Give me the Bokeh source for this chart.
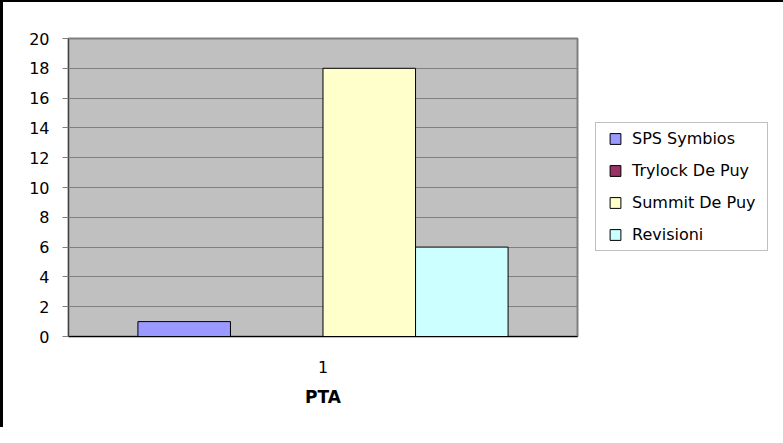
from bokeh.plotting import figure
from bokeh.models import FactorRange, Legend, LegendItem, ColumnDataSource, FixedTicker
from bokeh.transform import dodge
from bokeh.embed import file_html
from bokeh.resources import INLINE

categories = ["1"]
series = ["SPS Symbios", "Trylock De Puy", "Summit De Puy", "Revisioni"]
values = [1, 0, 18, 6]
colors = ["#9999FF", "#993366", "#FFFFCC", "#CCFFFF"]
x_title = "PTA"
y_ticks = [0, 2, 4, 6, 8, 10, 12, 14, 16, 18, 20]

FONT = "DejaVu Sans"

p = figure(frame_width=509, frame_height=298,
           x_range=FactorRange(factors=categories), y_range=(0, 20),
           output_backend="svg", toolbar_location=None,
           min_border_left=68, min_border_right=190, min_border_top=38, min_border_bottom=91,
           styles={"box-shadow": "inset 3px 2px 0 0 #000000"})
p.border_fill_color = None
p.background_fill_color = "#C0C0C0"
p.outline_line_color = "#808080"
p.outline_line_width = 2

n = len(series)
slot = 1.0 / (n + 1.5)
items = []
for i, (name, v, c) in enumerate(zip(series, values, colors)):
    off = (i - (n - 1) / 2) * slot
    src = ColumnDataSource(dict(x=categories, top=[v]))
    p.vbar(x=dodge("x", off, range=p.x_range), top="top", width=slot, source=src,
           fill_color=c, line_color="black", line_width=1)
    r = p.scatter(x=dodge("x", off, range=p.x_range), y="top", source=src, marker="square",
                  fill_color=c, line_color="black", line_width=1, visible=False)
    items.append(LegendItem(label=name, renderers=[r]))

legend = Legend(items=items, location=(18, 85), padding=2, spacing=5, margin=0,
                glyph_width=34, glyph_height=27, label_height=10, label_width=133,
                label_standoff=0, label_text_font=FONT, label_text_font_size="16px",
                label_text_color="black", border_line_color="#808080", border_line_width=1,
                background_fill_color="white", background_fill_alpha=1.0)
p.add_layout(legend, "right")

p.ygrid.grid_line_color = "#808080"
p.ygrid.ticker = FixedTicker(ticks=y_ticks)
p.xgrid.grid_line_color = None

p.yaxis.ticker = FixedTicker(ticks=y_ticks)
p.yaxis.major_tick_out = 6
p.yaxis.major_tick_in = 0
p.yaxis.major_tick_line_color = "#808080"
p.yaxis.minor_tick_line_color = None
p.yaxis.axis_line_color = "#404040"
p.yaxis.major_label_standoff = 13
p.yaxis.major_label_text_font = FONT
p.yaxis.major_label_text_font_size = "16px"
p.yaxis.major_label_text_color = "black"

p.xaxis.axis_line_color = "black"
p.xaxis.major_tick_line_color = None
p.xaxis.major_tick_out = 0
p.xaxis.major_tick_in = 0
p.xaxis.major_label_standoff = 24
p.xaxis.major_label_text_font = FONT
p.xaxis.major_label_text_font_size = "16px"
p.xaxis.major_label_text_color = "black"
p.xaxis.axis_label = x_title
p.xaxis.axis_label_text_font = FONT
p.xaxis.axis_label_text_font_size = "17px"
p.xaxis.axis_label_text_font_style = "bold"
p.xaxis.axis_label_text_color = "black"
p.xaxis.axis_label_standoff = 11

open("out.html", "w").write(file_html(p, INLINE))
